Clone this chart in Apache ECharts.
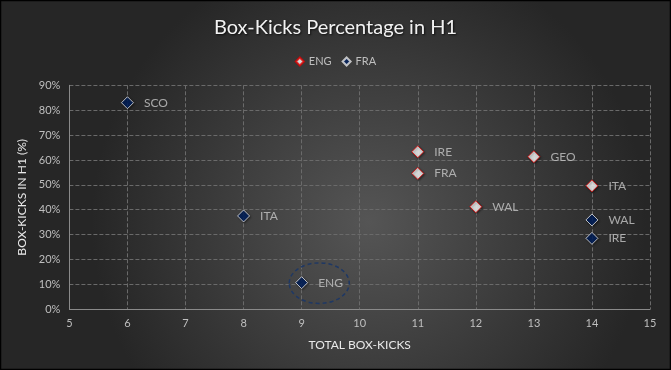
<!DOCTYPE html>
<html><head><meta charset="utf-8">
<script src="https://cdn.jsdelivr.net/npm/echarts@6/dist/echarts.min.js"></script>
<style>html,body{margin:0;padding:0;background:#000;}#c{width:671px;height:370px;}</style>
</head><body><div id="c"></div>
<script>
var titleText = 'Box-Kicks Percentage in H1';
var xName = 'TOTAL BOX-KICKS';
var yName = 'BOX-KICKS IN H1 (%)';
var engTeams = ['IRE', 'FRA', 'GEO', 'ITA', 'WAL'];
var engKicks = [11, 11, 13, 14, 12];
var engPct = [63.3, 54.6, 61.3, 49.6, 41.2];
var fraTeams = ['SCO', 'ITA', 'ENG', 'WAL', 'IRE'];
var fraKicks = [6, 8, 9, 14, 14];
var fraPct = [83.0, 37.5, 10.7, 35.9, 28.5];
var highlight = [9, 10.7];

var FONT = 'Lato';
function mk(teams, kicks, pct){ return teams.map(function(t,i){ return [kicks[i], pct[i], t]; }); }
var chart = echarts.init(document.getElementById('c'));
var labelCfg = {show:true, position:'right', distance:10, formatter:function(p){return p.value[2];}, color:'#c8c8c8', fontSize:12, fontFamily:FONT};
chart.setOption({
  backgroundColor: {type:'radial', x:0.55, y:0.6, r:0.75, colorStops:[{offset:0,color:'#555555'},{offset:1,color:'#262626'}]},
  textStyle:{fontFamily:FONT},
  title:{text:titleText, left:'center', top:13, textStyle:{color:'#f2f2f2', fontSize:20, fontWeight:'normal', fontFamily:FONT, textShadowColor:'rgba(0,0,0,0.7)', textShadowBlur:2, textShadowOffsetX:1, textShadowOffsetY:1}},
  legend:{top:51, left:'center', itemWidth:8, itemHeight:8, itemGap:10, textStyle:{color:'#bfbfbf', fontSize:11, fontFamily:FONT}, data:['ENG','FRA']},
  grid:{left:69.4, right:21, top:85.3, bottom:60.7},
  xAxis:{type:'value', min:5, max:15, interval:1, name:xName, nameLocation:'middle', nameGap:30,
    nameTextStyle:{color:'#e8e8e8', fontSize:12, fontFamily:FONT},
    axisLine:{show:true, lineStyle:{color:'#8a8a8a'}}, axisTick:{show:false},
    axisLabel:{color:'#bfbfbf', fontSize:11, margin:9},
    splitLine:{show:true, lineStyle:{color:'#6a6a6a', type:'dashed'}}},
  yAxis:{type:'value', min:0, max:90, interval:10, name:yName, nameLocation:'middle', nameGap:37,
    nameTextStyle:{color:'#e8e8e8', fontSize:12, fontFamily:FONT},
    axisLine:{show:true, lineStyle:{color:'#8a8a8a'}}, axisTick:{show:false},
    axisLabel:{color:'#bfbfbf', fontSize:11, margin:9, formatter:'{value}%'},
    splitLine:{show:true, lineStyle:{color:'#6a6a6a', type:'dashed'}}},
  series:[
    {name:'ENG', type:'scatter', symbol:'diamond', symbolSize:12, data:mk(engTeams, engKicks, engPct),
      itemStyle:{color:'#ffffff', borderColor:'#e00000', borderWidth:1, shadowColor:'rgba(0,0,0,0.5)', shadowBlur:2, shadowOffsetX:1, shadowOffsetY:1},
      label:labelCfg},
    {name:'FRA', type:'scatter', symbol:'diamond', symbolSize:12, data:mk(fraTeams, fraKicks, fraPct),
      itemStyle:{color:'#002060', borderColor:'#e6e6e6', borderWidth:1, shadowColor:'rgba(0,0,0,0.5)', shadowBlur:2, shadowOffsetX:1, shadowOffsetY:1},
      label:labelCfg}
  ]
});
var p = chart.convertToPixel({gridIndex:0}, highlight);
chart.setOption({graphic:[
  {type:'ellipse', shape:{cx:p[0]+17.6, cy:p[1]+0.5, rx:30, ry:20.3}, style:{fill:'none', stroke:'#1f3864', lineWidth:1.5, lineDash:[4,3]}, z:10},
  {type:'rect', shape:{x:0.5, y:0.5, width:670, height:369}, style:{fill:'none', stroke:'#000', lineWidth:1.5}, z:20}
]});
</script></body></html>
